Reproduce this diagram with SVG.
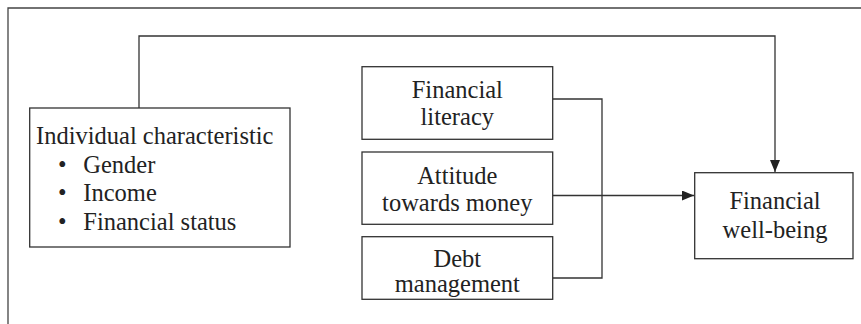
<svg xmlns="http://www.w3.org/2000/svg" width="861" height="324" viewBox="0 0 861 324">
  <style>
    .box { fill: #fff; stroke: #333; stroke-width: 1.3; }
    .line { fill: none; stroke: #333; stroke-width: 1.3; }
    .frame { fill: none; stroke: #444; stroke-width: 1.3; }
    text { font-family: "Liberation Serif", "Times New Roman", serif; font-size: 24.5px; fill: #222; }
    .c { text-anchor: middle; }
  </style>
  <defs>
    <marker id="arrow" viewBox="0 0 12 10" refX="12" refY="5" markerWidth="12" markerHeight="10" markerUnits="userSpaceOnUse" orient="auto">
      <path d="M0,0 L12,5 L0,10 Z" fill="#222"/>
    </marker>
  </defs>
  <rect width="861" height="324" fill="#fff"/>

  <!-- outer frame: top and left edges -->
  <path class="frame" d="M8,324 V8 H861"/>

  <!-- connectors -->
  <g id="connectors">
    <path class="line" d="M139,108 V36 H775 V172" marker-end="url(#arrow)"/>
    <path class="line" d="M552.7,99 H602 V278 H552.7"/>
    <path class="line" d="M552.7,195.5 H694" marker-end="url(#arrow)"/>
  </g>

  <g id="individual">
    <rect class="box" x="29.7" y="108" width="260.3" height="139"/>
    <text x="36" y="144">Individual characteristic</text>
    <text x="58" y="172.7">•</text>
    <text x="83.3" y="172.7">Gender</text>
    <text x="58" y="201.4">•</text>
    <text x="83.3" y="201.4">Income</text>
    <text x="58" y="230">•</text>
    <text x="83.3" y="230">Financial status</text>
  </g>

  <g id="literacy">
    <rect class="box" x="362" y="66.7" width="190.7" height="72.6"/>
    <text class="c" x="457.3" y="98">Financial</text>
    <text class="c" x="457.3" y="124.5">literacy</text>
  </g>

  <g id="attitude">
    <rect class="box" x="362" y="152" width="190.7" height="72.3"/>
    <text class="c" x="457.3" y="184">Attitude</text>
    <text class="c" x="457.3" y="210.7">towards money</text>
  </g>

  <g id="debt">
    <rect class="box" x="362" y="236.7" width="190.7" height="62.6"/>
    <text class="c" x="457.3" y="266.7">Debt</text>
    <text class="c" x="457.3" y="292.3">management</text>
  </g>

  <g id="wellbeing">
    <rect class="box" x="694.7" y="172.7" width="158.3" height="86"/>
    <text class="c" x="775" y="208.7">Financial</text>
    <text class="c" x="775" y="237.7">well-being</text>
  </g>
</svg>
